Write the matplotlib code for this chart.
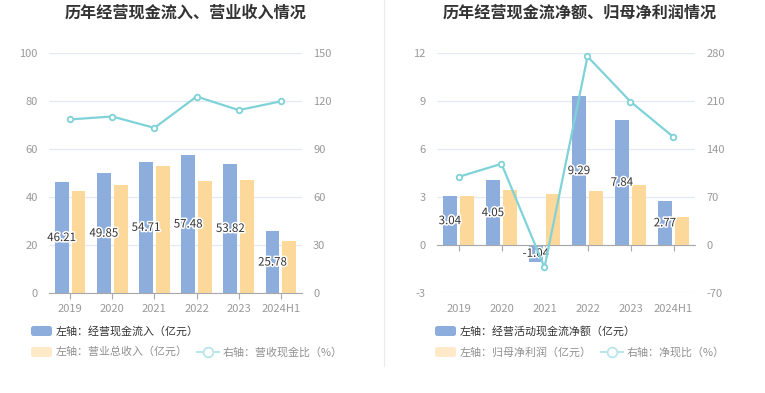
import numpy as np
import matplotlib
matplotlib.use('Agg')
import matplotlib.pyplot as plt
import matplotlib.patheffects as pe
from matplotlib.patches import FancyBboxPatch
from matplotlib.lines import Line2D

plt.rcParams['font.family'] = ['Noto Sans CJK SC', 'DejaVu Sans']

# ==========================================================
# Dados
# ==========================================================
years = ['2019', '2020', '2021', '2022', '2023', '2024H1']

cash_in = [46.21, 49.85, 54.71, 57.48, 53.82, 25.78]
revenue = [42.6, 45.2, 53.0, 46.8, 47.1, 21.5]
cash_rev_ratio = [108.5, 110.3, 103.2, 122.8, 114.3, 119.8]

cash_net = [3.04, 4.05, -1.04, 9.29, 7.84, 2.77]
net_profit = [3.06, 3.42, 3.18, 3.38, 3.75, 1.76]
net_ratio = [99.3, 118.4, -32.7, 274.9, 209.1, 157.4]

BLUE = '#8DAEDC'
ORANGE = '#FDD89B'
CYAN = '#7FD3D8'
GRID = '#E3E8F2'
TICK = '#999999'

W, H = 765, 393
fig = plt.figure(figsize=(W / 100, H / 100), dpi=100)


def px_axes(x0, y0, x1, y1):
    return fig.add_axes([x0 / W, 1 - y1 / H, (x1 - x0) / W, (y1 - y0) / H])


def draw_panel(x0, x1, bars1, bars2, ratio, lticks, rticks):
    ax = px_axes(x0, 53, x1, 293)
    x = np.arange(len(years))
    bw = 0.33
    ax.bar(x - bw / 2 - 0.035, bars1, bw, color=BLUE, zorder=2)
    ax.bar(x + bw / 2 + 0.035, bars2, bw, color=ORANGE, zorder=2)
    for xi, v in zip(x, bars1):
        ax.text(xi - bw / 2 - 0.035, v / 2, f'{v:.2f}', ha='center', va='center',
                fontsize=8.3, color='#333333', zorder=5,
                path_effects=[pe.withStroke(linewidth=2.2, foreground='white')])
    ax.set_xlim(-0.5, len(years) - 0.5)
    ax.set_ylim(lticks[0], lticks[-1])
    ax.set_yticks(lticks)
    ax.set_yticklabels([str(t) for t in lticks])
    ax.grid(axis='y', color=GRID, linewidth=0.9, zorder=0)
    for s in ['top', 'right', 'left']:
        ax.spines[s].set_visible(False)
    ax.spines['bottom'].set_color('#A8A8A8')
    ax.spines['bottom'].set_position(('data', 0))
    ax.spines['bottom'].set_zorder(3)
    ax.set_xticks(x)
    ax.set_xticklabels([])
    ax.tick_params(axis='x', length=4, color='#A8A8A8', direction='out')
    ax.tick_params(axis='y', length=0, labelcolor=TICK, labelsize=8, pad=8)
    for xi, lab in zip(x, years):
        ax.text(xi, -0.045, lab, transform=ax.get_xaxis_transform(),
                ha='center', va='top', fontsize=8, color=TICK)

    ax2 = ax.twinx()
    ax2.set_ylim(rticks[0], rticks[-1])
    ax2.set_yticks(rticks)
    ax2.set_yticklabels([str(t) for t in rticks])
    ax2.tick_params(axis='y', length=0, labelcolor=TICK, labelsize=8, pad=8)
    for s in ['top', 'right', 'left', 'bottom']:
        ax2.spines[s].set_visible(False)
    ax2.plot(x, ratio, color=CYAN, linewidth=1.6, marker='o', markersize=4,
             markerfacecolor='white', markeredgecolor=CYAN, markeredgewidth=1.3,
             zorder=4)
    return ax, ax2


draw_panel(49, 302, cash_in, revenue, cash_rev_ratio,
           [0, 20, 40, 60, 80, 100], [0, 30, 60, 90, 120, 150])
draw_panel(437, 695, cash_net, net_profit, net_ratio,
           [-3, 0, 3, 6, 9, 12], [-70, 0, 70, 140, 210, 280])

# overlay para títulos, legendas e separador
ov = fig.add_axes([0, 0, 1, 1], zorder=-1)
ov.set_xlim(0, W)
ov.set_ylim(H, 0)
ov.axis('off')

ov.text(186, 13, '历年经营现金流入、营业收入情况', ha='center', va='center',
        fontsize=11.6, fontweight='bold', color='#333333')
ov.text(580, 13, '历年经营现金流净额、归母净利润情况', ha='center', va='center',
        fontsize=11.6, fontweight='bold', color='#333333')
ov.plot([384, 384], [0, 366], color='#EBEBEB', linewidth=0.8)


def legend(x_rect, row1, row2, line_x, line_txt):
    ov.add_patch(FancyBboxPatch((x_rect, 326), 21, 10, boxstyle='round,pad=0,rounding_size=2.5',
                                facecolor=BLUE, edgecolor='none'))
    ov.text(x_rect + 25, 331, row1, ha='left', va='center', fontsize=7.9, color='#333333')
    ov.add_patch(FancyBboxPatch((x_rect, 347), 21, 10, boxstyle='round,pad=0,rounding_size=2.5',
                                facecolor='#FFE9C8', edgecolor='none'))
    ov.text(x_rect + 25, 352, row2, ha='left', va='center', fontsize=7.9, color='#909090')
    ov.add_line(Line2D([line_x, line_x + 22], [352, 352], color='#B8E6E9', linewidth=1.4))
    ov.plot([line_x + 11], [352], marker='o', markersize=7, markerfacecolor='white',
            markeredgecolor='#B8E6E9', markeredgewidth=1.3)
    ov.text(line_x + 26, 352, line_txt, ha='left', va='center', fontsize=7.9, color='#909090')


legend(31, '左轴：经营现金流入（亿元）', '左轴：营业总收入（亿元）', 197, '右轴：营收现金比（%）')
legend(435, '左轴：经营活动现金流净额（亿元）', '左轴：归母净利润（亿元）', 601, '右轴：净现比（%）')

fig.savefig('out.png', dpi=100)
